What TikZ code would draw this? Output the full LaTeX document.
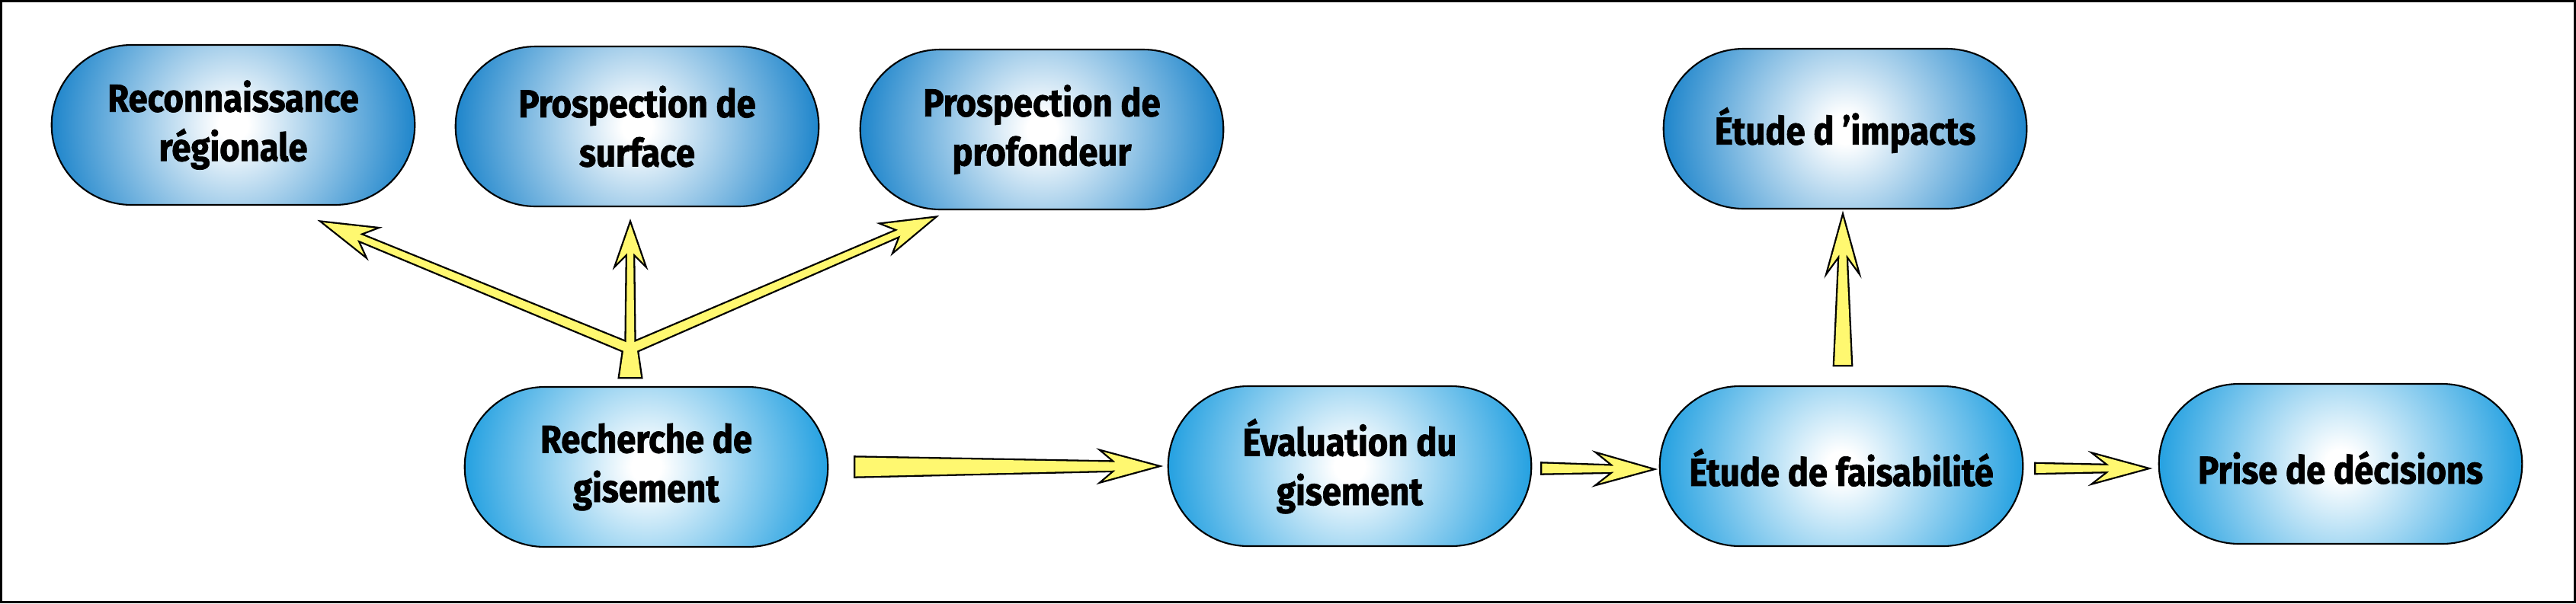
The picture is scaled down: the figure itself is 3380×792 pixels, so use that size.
\documentclass[tikz,border=0pt]{standalone}
\usepackage{fontspec}
\setmainfont{Fira Sans}[FakeStretch=0.89,BoldFeatures={FakeBold=1.5}]
\usetikzlibrary{calc,shapes.misc}
\definecolor{bleuhaut}{RGB}{24,130,202}
\definecolor{bleubas}{RGB}{30,158,224}
\definecolor{jaune}{RGB}{255,248,112}
\colorlet{lueur}{bleuhaut}
\pgfdeclareradialshading[lueur]{halo}{\pgfpointorigin}{color(0bp)=(white); color(2bp)=(white); color(25bp)=(lueur); color(50bp)=(lueur)}
\newcommand{\fleche}[8]{%
\coordinate (fl-n) at ($(#3)!#6!(#2)$);
\coordinate (fl-m) at ($(#3)!#7!(#2)$);
\path[#1] ($(#2)!#4!90:(#3)$) -- ($(fl-n)!#5!90:(#3)$) -- ($(fl-m)!#8!90:(#3)$) -- (#3)
  -- ($(fl-m)!#8!-90:(#3)$) -- ($(fl-n)!#5!-90:(#3)$) -- ($(#2)!#4!-90:(#3)$) -- cycle;}
\newcommand{\trapeze}[5]{%
\path[#1] ($(#2)!#4!90:(#3)$) -- ($(#3)!#5!-90:(#2)$) -- ($(#3)!#5!90:(#2)$) -- ($(#2)!#4!-90:(#3)$) -- cycle;}
\newcommand{\fleches}[1]{%
\trapeze{#1}{pied}{tete}{1.4mm}{0.8mm}
\fleche{#1}{fourche}{pointeR}{0.6mm}{0.4mm}{5.0mm}{6.6mm}{1.9mm}
\fleche{#1}{fourche}{pointeS}{0.55mm}{0.4mm}{3.8mm}{5.2mm}{1.8mm}
\fleche{#1}{fourche}{pointeP}{0.6mm}{0.4mm}{4.9mm}{6.4mm}{1.9mm}
\fleche{#1}{queue1}{pointe1}{1.25mm}{0.55mm}{5.4mm}{7.0mm}{1.9mm}
\fleche{#1}{queue2}{pointe2}{0.65mm}{0.4mm}{4.9mm}{6.8mm}{1.9mm}
\fleche{#1}{queue3}{pointe3}{0.6mm}{0.4mm}{4.8mm}{6.6mm}{1.8mm}
\fleche{#1}{queue4}{pointe4}{1.1mm}{0.45mm}{4.9mm}{6.9mm}{1.9mm}}

\begin{document}
\begin{tikzpicture}[x=0.1mm,y=-0.1mm,
  etape/.style={rounded rectangle,draw=black,line width=0.6pt,minimum width=5cm,minimum height=2.1cm,
    align=center,font=\fontsize{14.5}{18.4}\selectfont\bfseries,
    path picture={\colorlet{lueur}{#1}\shade[shading=halo] (path picture bounding box.center) circle (2.45cm);}},
  deux/.style={execute at begin node={\rule{0pt}{18pt}}},
  une/.style={execute at begin node={\rule{0pt}{15pt}}},
  trait/.style={draw=black,line width=1.3pt,line join=miter},
  remplissage/.style={fill=jaune}]
\useasboundingbox (0,0) rectangle (3380,792);
\draw [line width=0.6pt] (1.5,1.5) rectangle (3378.5,790.5);
\node[etape=bleuhaut,deux] (reco) at (306,164) {Reconnaissance\\régionale};
\node[etape=bleuhaut,deux] (surf) at (836,166) {Prospection de\\surface};
\node[etape=bleuhaut,deux] (prof) at (1367,170) {Prospection de\\profondeur};
\node[etape=bleuhaut,une] (impa) at (2421,169) {Étude d ’impacts};
\node[etape=bleubas,deux] (rech) at (848,613) {Recherche de\\gisement};
\node[etape=bleubas,deux] (eval) at (1771,612) {Évaluation du\\gisement};
\node[etape=bleubas,une] (fais) at (2416,612) {Étude de faisabilité};
\node[etape=bleubas,une] (prise) at (3071,609) {Prise de décisions};
\coordinate (pied) at ($(rech.north)+(-21,-12)$);
\coordinate (tete) at ($(rech.north)+(-21,-53)$);
\coordinate (fourche) at ($(rech.north)+(-21,-49)$);
\coordinate (pointeR) at ($(reco.south)+(118,22)$);
\coordinate (pointeS) at ($(surf.south)+(-9,22)$);
\coordinate (pointeP) at ($(prof.south)+(-142,10)$);
\coordinate (queue1) at ($(rech.east)+(35,0)$);
\coordinate (pointe1) at ($(eval.west)+(-14,0)$);
\coordinate (queue2) at ($(eval.east)+(13,3)$);
\coordinate (pointe2) at ($(fais.west)+(-10,4)$);
\coordinate (queue3) at ($(fais.east)+(16,3)$);
\coordinate (pointe3) at ($(prise.west)+(-16,6)$);
\coordinate (queue4) at ($(fais.north)+(2,-27)$);
\coordinate (pointe4) at ($(impa.south)+(-3,10)$);
\fleches{trait}
\fleches{remplissage}
\end{tikzpicture}
\end{document}
